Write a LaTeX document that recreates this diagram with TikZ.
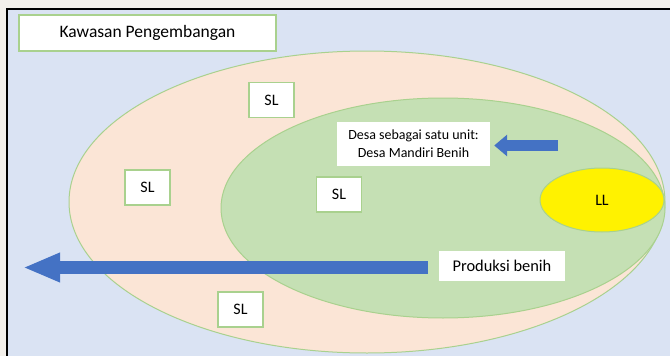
\documentclass[tikz,border=0pt]{standalone}
\usepackage{fontspec}
\setmainfont{Carlito}
\usetikzlibrary{arrows.meta,shapes.geometric}
\definecolor{luar}{HTML}{F3F0EB}
\definecolor{latar}{HTML}{DAE3F3}
\definecolor{merahmuda}{HTML}{FBE5D6}
\definecolor{hijau}{HTML}{C5E0B4}
\definecolor{garis}{HTML}{A9D18E}
\definecolor{biru}{HTML}{4472C4}
\tikzset{
	kotak/.style={draw=garis, line width=1.3pt, fill=white, inner sep=0pt, minimum width=45pt, minimum height=35pt, font=\fontsize{16}{18}\selectfont},
	teks/.style={fill=white, inner sep=0pt, align=center},
	panah/.style={biru, line width=#1}
}
\begin{document}
\begin{tikzpicture}[x=1pt,y=-1pt]
	\useasboundingbox (0,0) rectangle (670,356);
	%latar belakang
	\fill [luar] (0,0) rectangle (670,356);
	\draw [black, fill=latar, line width=2pt] (7,9) rectangle (675,362);
	%kawasan
	\draw [garis, fill=merahmuda, line width=1pt] (367,202) ellipse (298pt and 151pt);
	\draw [garis, fill=hijau, line width=1pt] (443,208) ellipse (222pt and 110pt);
	\node (ll) [ellipse, draw=garis, line width=1pt, fill=yellow, minimum width=124pt, minimum height=64pt, inner sep=0pt, font=\fontsize{16}{18}\selectfont] at (602,200) {LL};
	
	%label
	\node (kawasan) [draw=garis, line width=1.3pt, fill=white, minimum width=257pt, minimum height=36pt, inner sep=0pt, font=\fontsize{17.5}{20}\selectfont] at (147.5,33) {Kawasan Pengembangan};
	\node (desa) [teks, minimum width=153pt, minimum height=44pt, font=\fontsize{14}{18}\selectfont] at (413.5,144) {Desa sebagai satu unit:\\Desa Mandiri Benih};
	\node (produksi) [teks, minimum width=126pt, minimum height=30pt, font=\fontsize{16.4}{18}\selectfont] at (502,266) {Produksi benih};
	\node (sl1) [kotak] at (271.5,100) {SL};
	\node (sl2) [kotak] at (147.5,187.5) {SL};
	\node (sl3) [kotak] at (339,194.5) {SL};
	\node (sl4) [kotak] at (240.5,309.5) {SL};
	
	%panah
	\coordinate (ekorkecil) at (558,145.5);
	\coordinate (ujungbesar) at (23,267.5);
	\draw [panah=11pt, -{Triangle[width=21pt,length=13pt]}] (ekorkecil) -- ([xshift=4pt]desa.east |- ekorkecil);
	\draw [panah=13pt, -{Triangle[width=27pt,length=37pt]}] ([xshift=-11pt]produksi.west |- ujungbesar) -- (ujungbesar);
\end{tikzpicture}
\end{document}
